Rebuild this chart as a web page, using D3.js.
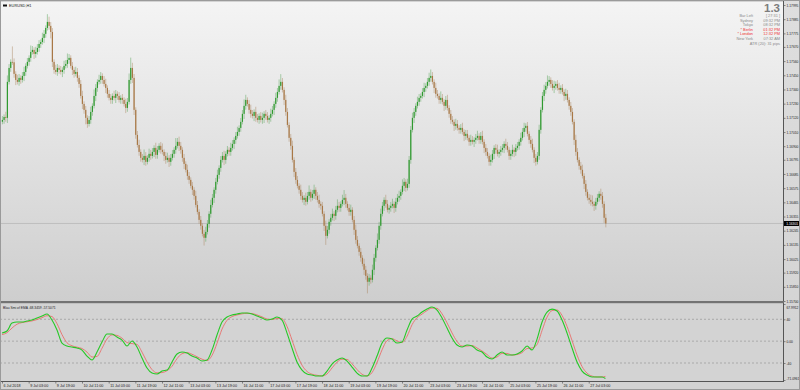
<!DOCTYPE html>
<html>
<head>
<meta charset="utf-8">
<script src="https://cdn.jsdelivr.net/npm/d3@7"></script>
<style>
  body { margin: 0; background: #fff; }
  svg { display: block; font-family: "Liberation Sans", Arial, sans-serif; }
</style>
</head>
<body>
<svg width="800" height="390"></svg>
<script>
// EURUSD H1, 6 Jul 2018 11:00 .. 27 Jul 2018 13:00
// prices kept as points above 1.15000, wicks in pips
const firstOpen = 2090;
const closePts = [
  2104,2127,2120,2399,2507,2554, 2551,2461,2414,2399,2430,2414, 2445,2476,2523,2554,2585,2631, 2647,2616,2631,2662,2693,2708, 2740,2771,2817,2864,2833,2786,
  2554,2492,2476,2507,2492,2476, 2492,2523,2538,2569,2585,2523, 2492,2461,2476,2430,2383,2290, 2228,2182,2120,2073,2104,2166, 2213,2290,2352,2399,2414,2445,
  2414,2383,2352,2306,2275,2259, 2290,2275,2306,2290,2259,2275, 2259,2228,2197,2244,2414,2507, 2430,2182,1988,1910,1856,1810, 1794,1825,1779,1810,1841,1825,
  1856,1887,1833,1872,1903,1872, 1856,1825,1794,1810,1779,1810, 1841,1872,1903,1934,1903,1872, 1810,1763,1717,1670,1639,1593, 1562,1515,1445,1391,1329,1283,
  1221,1190,1236,1298,1376,1445, 1500,1562,1624,1678,1732,1794, 1825,1794,1841,1872,1856,1887, 1918,1949,1980,2011,2042,2089, 2151,2213,2259,2228,2182,2151,
  2135,2166,2120,2104,2135,2104, 2120,2151,2135,2104,2120,2151, 2182,2228,2275,2321,2368,2399, 2337,2259,2166,2065,1965,1903, 1794,1701,1639,1593,1562,1515,
  1484,1500,1469,1515,1546,1500, 1531,1562,1515,1484,1453,1438, 1376,1283,1205,1252,1314,1345, 1376,1360,1407,1438,1422,1453, 1484,1500,1453,1422,1391,1407,
  1329,1252,1174,1128,1081,1035, 988,942,895,849,880,864, 942,1035,1112,1174,1283,1376, 1438,1484,1453,1407,1422,1438, 1453,1422,1469,1500,1515,1546,
  1593,1624,1577,1608,1794,2027, 2120,2166,2213,2244,2275,2290, 2321,2352,2368,2399,2430,2445, 2399,2352,2306,2290,2259,2275, 2244,2213,2259,2197,2151,2104,
  2089,2058,2073,2042,2027,2042, 2011,1980,1996,1965,1934,1949, 1934,1949,1965,1980,1949,1980, 1934,1887,1856,1825,1779,1794, 1841,1887,1872,1841,1856,1872,
  1887,1918,1903,1872,1825,1841, 1872,1856,1887,1903,1934,1965, 2011,2042,2058,1996,1949,1918, 1872,1810,1779,1825,2027,2182, 2290,2337,2368,2399,2414,2383,
  2352,2368,2383,2352,2337,2352, 2321,2290,2306,2259,2213,2166, 2089,1949,1856,1794,1748,1717, 1670,1608,1546,1500,1484,1469, 1453,1438,1469,1500,1531,1515,
  1453,1345,1301
];
const hiWick = [
  3,2,4,5,3,2,12,3,2,4,3,2,3,4,2,3,2,5,3,2,4,3,3,2,4,3,2,6,4,3,
  3,2,4,3,2,3,2,4,3,5,3,2,3,2,4,3,2,3,4,2,3,2,3,4,2,5,3,2,4,3,
  2,3,4,2,3,3,2,4,3,2,3,2,3,2,4,3,5,8,4,3,2,3,4,2,3,5,3,2,4,3,
  3,2,4,3,2,3,5,2,3,4,2,3,3,2,6,3,4,3,2,3,2,4,3,2,3,2,4,3,2,3,
  2,3,4,3,2,4,3,2,3,4,2,3,3,4,2,3,2,4,3,2,3,4,2,3,3,5,4,2,3,4,
  3,2,4,3,2,3,4,2,3,3,2,4,3,2,4,3,5,6,3,2,4,3,2,3,4,2,3,3,2,4,
  3,2,4,3,5,2,3,4,2,3,4,2,3,2,4,3,2,3,4,2,3,5,3,2,4,6,3,2,3,4,
  2,3,4,3,2,3,2,4,3,2,3,2,4,3,2,5,3,4,3,2,4,3,2,3,4,2,3,3,4,2,
  5,3,2,4,3,3,4,3,2,4,3,2,3,4,2,3,4,5,3,2,4,3,2,5,3,2,3,4,2,3,
  3,2,4,3,2,3,4,2,3,3,2,4,3,2,3,4,2,3,4,2,3,3,2,4,3,2,3,4,2,3,
  3,2,4,3,2,3,4,2,3,3,2,4,3,4,2,3,2,3,4,2,3,3,4,2,3,4,3,5,3,2,
  3,4,2,3,4,2,3,2,4,3,2,3,3,2,4,3,2,3,4,2,3,2,3,4,5,2,3,3,2,4,
  3,2,3
];
const loWick = [
  2,3,3,4,2,3,2,3,4,2,3,3,2,4,3,2,3,3,2,4,3,2,3,3,2,4,3,2,3,5,
  4,3,2,3,3,2,4,3,2,3,3,2,4,3,2,3,3,2,4,3,5,3,2,3,3,2,4,3,2,3,
  3,2,4,3,2,3,3,2,4,3,2,3,3,2,4,3,2,3,4,4,3,2,3,3,2,4,3,2,3,3,
  2,4,3,3,2,3,2,4,3,2,4,3,2,3,3,2,4,3,3,4,2,3,3,2,4,3,2,2,3,3,
  2,6,3,2,3,3,2,4,3,2,3,3,2,4,3,2,3,3,2,4,3,2,3,3,2,4,3,2,3,3,
  2,4,3,2,3,2,3,4,3,2,3,3,2,4,3,3,2,3,2,4,3,2,3,3,2,4,3,2,3,3,
  2,4,3,2,3,3,2,4,3,2,3,3,2,4,7,2,3,3,2,4,3,2,3,3,2,4,3,2,3,3,
  2,4,3,2,3,3,2,4,3,9,3,3,2,4,3,2,3,3,2,4,3,2,3,3,2,4,3,2,3,3,
  2,4,3,2,3,3,2,4,3,2,3,3,2,4,3,2,3,3,2,4,3,2,3,3,2,4,3,2,3,3,
  2,4,3,2,3,3,2,4,3,2,3,3,2,4,3,2,3,3,2,4,3,2,3,3,2,4,3,2,3,3,
  2,4,3,2,3,3,2,4,3,2,3,3,2,4,3,2,3,3,2,4,3,2,3,3,2,4,3,2,3,3,
  2,4,3,2,3,3,2,4,3,2,3,3,2,4,3,2,3,3,2,4,3,2,3,3,2,4,3,2,3,3,
  3,4,3
];
const priceTicks = [1.17995,1.17885,1.17775,1.17670,1.17560,1.17450,1.17340,1.17230,1.17120,1.17010,1.16900,
  1.16795,1.16685,1.16575,1.16465,1.16355,1.16245,1.16135,1.16025,1.15920,1.15810,1.15700];
const timeLabels = ["6 Jul 2018","9 Jul 03:00","9 Jul 19:00","10 Jul 11:00","11 Jul 03:00","11 Jul 19:00","12 Jul 11:00",
  "13 Jul 03:00","13 Jul 19:00","16 Jul 11:00","17 Jul 03:00","17 Jul 19:00","18 Jul 11:00","19 Jul 03:00","19 Jul 19:00",
  "20 Jul 11:00","23 Jul 03:00","23 Jul 19:00","24 Jul 11:00","25 Jul 03:00","25 Jul 19:00","26 Jul 11:00","27 Jul 03:00"];
const bid = 1.16301;

// Blau SMI of EMA, read every 3rd bar (plus the last one)
const smiMain = [14.8,18.5,33.1,35.0,35.0,36.8,38.6,42.3,45.9,49.6,38.6,20.3,-3.5,-9.0,-10.8,-12.6,-16.3,-27.3,-34.6,-19.9,
  -1.6,13.0,13.0,7.5,2.0,-9.0,0.2,-10.8,-30.9,-49.2,-58.4,-60.2,-54.7,-52.9,-38.2,-23.6,-19.9,-21.8,-27.3,-30.9,
  -36.4,-34.6,-16.3,11.2,35.0,44.1,47.8,49.6,51.4,51.4,49.6,45.9,42.3,38.6,40.4,44.1,38.6,14.8,-12.6,-38.2,
  -52.9,-60.2,-62.0,-63.9,-63.9,-54.7,-41.9,-34.6,-30.9,-36.4,-47.4,-58.4,-63.9,-63.9,-49.2,-27.3,-3.5,5.7,3.8,-3.5,
  -1.6,20.3,40.4,45.9,53.3,58.7,62.4,56.9,42.3,24.0,5.7,-7.1,-10.8,-7.1,-9.0,-16.3,-19.9,-29.1,-32.8,-25.4,
  -19.9,-25.4,-25.4,-23.6,-18.1,-9.0,-16.3,3.8,35.0,53.3,58.7,55.1,38.6,14.8,-12.6,-38.2,-54.7,-62.0,-65.7,-65.7,
  -65.7,-68.3];
const smiSignal = [12.0,15.5,24.0,31.0,34.0,35.5,37.0,39.5,43.0,46.5,45.0,32.0,12.0,-3.0,-8.5,-11.0,-13.5,-20.0,-29.0,-28.0,
  -13.0,4.0,11.5,10.5,5.5,-2.5,-4.5,-6.0,-20.0,-38.0,-52.0,-58.0,-57.5,-54.0,-46.0,-32.0,-23.0,-21.0,-24.0,-28.5,
  -33.0,-35.5,-26.0,-4.0,22.0,38.0,45.0,48.0,50.0,51.0,50.5,48.0,44.5,40.5,39.5,41.5,41.0,27.0,2.0,-24.0,
  -44.0,-55.5,-60.5,-62.5,-63.5,-60.0,-49.0,-38.5,-33.0,-33.5,-41.5,-52.0,-60.5,-63.5,-57.5,-39.0,-16.0,1.0,4.5,0.5,
  -2.5,9.0,30.0,43.0,49.5,56.0,60.5,60.0,50.0,33.5,15.0,-0.5,-9.0,-9.0,-8.0,-12.5,-18.0,-24.5,-31.0,-29.0,
  -22.5,-22.5,-25.5,-24.5,-21.0,-13.5,-12.5,-6.0,19.5,44.0,56.0,57.0,47.0,27.0,1.0,-25.5,-46.5,-58.5,-64.0,-65.5,
  -65.5,-64.5];
const smiBars = d3.range(0, 361, 3).concat([362]);
const smiLevels = [40, 0, -40];
const smiMax = 67.9912, smiMin = -71.0961;
const smiLegend = "Blau Smi of EMA -68.3459 -57.5071";

const infoRows = [
  ["Bar Left", "[ 27:31 ]", "#8a8a8a"],
  ["Sydney", "09:32 PM", "#8a8a8a"],
  ["Tokyo", "08:32 PM", "#8a8a8a"],
  ["* Berlin", "01:32 PM", "#ee3333"],
  ["* London", "12:32 PM", "#ee3333"],
  ["New York", "07:32 AM", "#8a8a8a"]
];

const svg = d3.select("svg");
const AX = 783;           // right edge of plot area
const mainTop = 2, mainBot = 301, subTop = 304, subBot = 381;

const defs = svg.append("defs");
const g1 = defs.append("linearGradient").attr("id", "bgMain").attr("x1", 0).attr("x2", 0).attr("y1", 0).attr("y2", 1);
g1.append("stop").attr("offset", "0%").attr("stop-color", "#f4f4f4");
g1.append("stop").attr("offset", "100%").attr("stop-color", "#cecece");
const g2 = defs.append("linearGradient").attr("id", "bgAxis").attr("x1", 0).attr("x2", 0).attr("y1", 0).attr("y2", 1);
g2.append("stop").attr("offset", "0%").attr("stop-color", "#dedede");
g2.append("stop").attr("offset", "100%").attr("stop-color", "#d2d2d2");
defs.append("clipPath").attr("id", "clipMain").append("rect")
  .attr("x", 0).attr("y", mainTop).attr("width", AX).attr("height", mainBot - mainTop);
defs.append("clipPath").attr("id", "clipSub").append("rect")
  .attr("x", 0).attr("y", subTop).attr("width", AX).attr("height", subBot - subTop);

// backgrounds
svg.append("rect").attr("width", 800).attr("height", 390).attr("fill", "#d3d3d3");
svg.append("rect").attr("x", 0).attr("y", mainTop).attr("width", AX).attr("height", mainBot - mainTop).attr("fill", "url(#bgMain)");
svg.append("rect").attr("x", AX).attr("y", 0).attr("width", 800 - AX).attr("height", 390).attr("fill", "url(#bgAxis)");
svg.append("rect").attr("x", 0).attr("y", subTop).attr("width", AX).attr("height", subBot - subTop).attr("fill", "#d3d3d3");

// scales
const x = d3.scaleLinear().domain([0, 362]).range([2, 605.4]);
const y = d3.scaleLinear().domain([1.157, 1.17995]).range([301, 5]);
const ys = d3.scaleLinear().domain([smiMin, smiMax]).range([380, 304]);

// candles
const pt = v => 1.15 + v / 1e5;
const bars = closePts.map((c, i) => {
  const o = i === 0 ? firstOpen : closePts[i - 1];
  const top = Math.max(o, c), bot = Math.min(o, c);
  return { i, o: pt(o), c: pt(c), h: pt(top + hiWick[i] * 10), l: pt(bot - loWick[i] * 10), up: c >= o };
});

const main = svg.append("g").attr("clip-path", "url(#clipMain)");
main.append("line").attr("x1", 0).attr("x2", AX).attr("y1", y(bid)).attr("y2", y(bid))
  .attr("stroke", "#b8b8b8").attr("stroke-width", 0.8);

main.selectAll(".wick").data(bars).enter().append("line")
  .attr("class", "wick")
  .attr("x1", d => x(d.i) + 0.4).attr("x2", d => x(d.i) + 0.4)
  .attr("y1", d => y(d.h)).attr("y2", d => y(d.l))
  .attr("stroke", d => d.up ? "#4fa04f" : "#a8825a")
  .attr("stroke-opacity", 0.45).attr("stroke-width", 1);

main.selectAll(".body").data(bars).enter().append("rect")
  .attr("class", "body")
  .attr("x", d => x(d.i) - 0.2).attr("width", 1.2)
  .attr("y", d => y(Math.max(d.o, d.c)))
  .attr("height", d => Math.max(0.8, Math.abs(y(d.o) - y(d.c))))
  .attr("fill", d => d.up ? "#2f9a2f" : "#a87846");

// price axis
const axisFont = "Liberation Sans, Arial, sans-serif";
const pAxis = svg.append("g").attr("transform", `translate(${AX},0)`)
  .call(d3.axisRight(y).tickValues(priceTicks).tickFormat(d3.format(".5f")).tickSize(2.5).tickPadding(1));
pAxis.select(".domain").remove();
pAxis.selectAll("line").attr("stroke", "#444").attr("stroke-width", 0.6);
pAxis.selectAll("text").attr("font-size", 3.3).attr("fill", "#222").attr("font-family", axisFont);

// bid label
svg.append("rect").attr("x", AX + 1).attr("y", y(bid) - 2.5).attr("width", 15).attr("height", 5).attr("fill", "#000");
svg.append("text").attr("x", AX + 3.2).attr("y", y(bid) + 1.2).attr("font-size", 3.3).attr("fill", "#fff")
  .attr("font-family", axisFont).text(bid.toFixed(5));

// indicator window
const sub = svg.append("g").attr("clip-path", "url(#clipSub)");
sub.selectAll(".lvl").data(smiLevels).enter().append("line")
  .attr("x1", 0).attr("x2", AX).attr("y1", d => ys(d)).attr("y2", d => ys(d))
  .attr("stroke", "#8f8f8f").attr("stroke-width", 0.6).attr("stroke-dasharray", "2,2");

const smiLine = d3.line().x((d, k) => x(smiBars[k])).y(d => ys(d)).curve(d3.curveMonotoneX);
sub.append("path").attr("d", smiLine(smiSignal)).attr("fill", "none").attr("stroke", "#e8706c").attr("stroke-width", 0.9);
sub.append("path").attr("d", smiLine(smiMain)).attr("fill", "none").attr("stroke", "#26c826").attr("stroke-width", 1.1);

const sAxis = svg.append("g").attr("transform", `translate(${AX},0)`)
  .call(d3.axisRight(ys).tickValues([smiMax, 40, 0, -40, smiMin])
    .tickFormat(d => d === 0 ? "0.00" : (Number.isInteger(d) ? d : d.toFixed(4))).tickSize(2.5).tickPadding(1));
sAxis.select(".domain").remove();
sAxis.selectAll("line").attr("stroke", "#444").attr("stroke-width", 0.6);
sAxis.selectAll("text").attr("font-size", 3.3).attr("fill", "#222").attr("font-family", axisFont);
sAxis.selectAll(".tick").filter(d => d === smiMax).select("text").attr("dy", "1.3em");
sAxis.selectAll(".tick").filter(d => d === smiMin).select("text").attr("dy", "-0.3em");

// time axis
const tAxis = svg.append("g").attr("transform", `translate(0,${subBot})`)
  .call(d3.axisBottom(x).tickValues(timeLabels.map((t, k) => k * 16))
    .tickFormat((d, k) => timeLabels[k]).tickSize(2.5).tickPadding(1.2));
tAxis.select(".domain").remove();
tAxis.selectAll("line").attr("stroke", "#444").attr("stroke-width", 0.6);
tAxis.selectAll("text").attr("font-size", 3.7).attr("fill", "#222").attr("text-anchor", "start").attr("dx", 1)
  .attr("font-family", axisFont);

// frames
svg.append("line").attr("x1", AX + 0.5).attr("x2", AX + 0.5).attr("y1", 0).attr("y2", subBot + 0.5).attr("stroke", "#555").attr("stroke-width", 1);
svg.append("rect").attr("x", 0).attr("y", mainBot).attr("width", AX + 1).attr("height", 2.2).attr("fill", "#737373");
svg.append("line").attr("x1", 0).attr("x2", AX + 1).attr("y1", subBot + 0.5).attr("y2", subBot + 0.5).attr("stroke", "#555").attr("stroke-width", 1.2);
svg.append("rect").attr("x", 0.5).attr("y", 0.5).attr("width", 799).attr("height", 389).attr("fill", "none").attr("stroke", "#9a9a9a");

// titles
svg.append("path").attr("d", "M3,4.5 L7,4.5 L7,6.5 L3,6.5 Z").attr("fill", "#111");
svg.append("text").attr("x", 9).attr("y", 7).attr("font-size", 3.9).attr("fill", "#222").text("EURUSD,H1");
svg.append("text").attr("x", 3).attr("y", 309.2).attr("font-size", 3.3).attr("fill", "#222").text(smiLegend);

// info panel
svg.append("text").attr("x", 780).attr("y", 11.5).attr("text-anchor", "end").attr("font-size", 11.5)
  .attr("font-weight", "bold").attr("fill", "#7d7d7d").text("1.3");
const info = svg.append("g").attr("font-size", 3.9);
infoRows.forEach((r, k) => {
  info.append("text").attr("x", 753).attr("y", 17 + k * 4.6).attr("text-anchor", "end").attr("fill", r[2]).text(r[0]);
  info.append("text").attr("x", 780).attr("y", 17 + k * 4.6).attr("text-anchor", "end").attr("fill", r[2]).text(r[1]);
});
info.append("text").attr("x", 780).attr("y", 17 + 6 * 4.6).attr("text-anchor", "end").attr("fill", "#8a8a8a").text("ATR (20): 31 pips");
</script>
</body>
</html>
